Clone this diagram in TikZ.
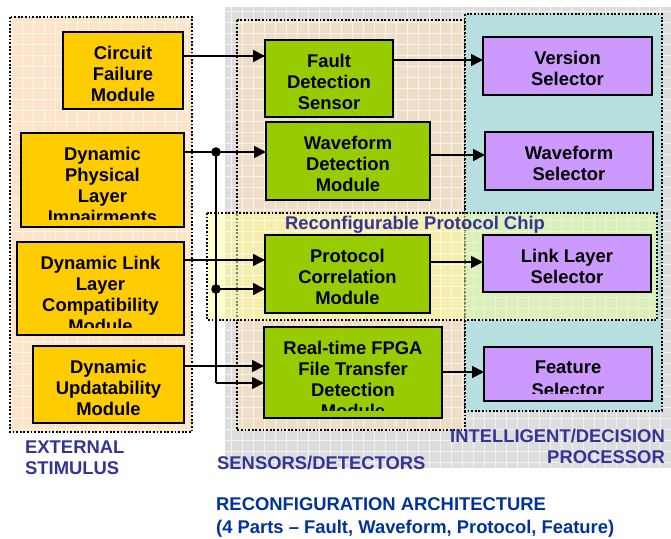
\documentclass[tikz,border=0pt]{standalone}
\usepackage{fontspec}
\setmainfont{Liberation Sans}
\usetikzlibrary{arrows.meta}

\definecolor{gold}{HTML}{FFCC00}
\definecolor{leaf}{HTML}{99CC00}
\definecolor{lilac}{HTML}{CC99FF}
\definecolor{teal}{RGB}{184,223,224}
\definecolor{panel}{RGB}{221,221,221}
\definecolor{peach}{RGB}{251,228,200}
\definecolor{sand}{RGB}{238,222,200}
\definecolor{chipyellow}{RGB}{255,255,150}
\definecolor{labelblue}{HTML}{333399}
\definecolor{titleblue}{HTML}{003399}

\tikzset{
  blockbox/.style={draw=black, line width=1.8pt, inner sep=0pt, outer sep=0pt},
  goldbox/.style={fill=gold},
  greenbox/.style={fill=leaf},
  purplebox/.style={fill=lilac},
  blocktext/.style={anchor=north, inner sep=0pt, align=center,
    font=\fontsize{18.4}{21}\selectfont\bfseries},
  conn/.style={draw=black, line width=1.7pt},
  arr/.style={conn, -{Triangle[length=12pt,width=12pt]}},
  region/.style={draw=black, line width=1.4pt, dash pattern=on 1.8pt off 1.8pt},
  gridline/.style={draw=white, line width=0.9pt, opacity=0.65},
  regionlabel/.style={inner sep=0pt, text=labelblue,
    font=\fontsize{18.4}{21}\selectfont\bfseries},
  dot/.style={fill=black}
}

% block: [text top offset], name, fill style, x1, y1, x2, y2, text
% (the text is cut off 8pt above the lower edge)
\newcommand\blk[8][13.5]{%
  \node[blockbox,#3,minimum width={(#6-#4)*1pt},minimum height={(#7-#5)*1pt}]
    (#2) at ({(#4+#6)/2},{(#5+#7)/2}) {};
  \begin{scope}
    \clip (#4,#5) rectangle (#6,{#7-8});
    \node[blocktext] (#2-t) at ({(#4+#6)/2},{#5+#1}) {#8};
  \end{scope}}

\begin{document}
\begin{tikzpicture}[x=1pt,y=-1pt]
\useasboundingbox (0,0) rectangle (671,538);

% grey panel behind sensors and processor
\fill[panel] (225,7) rectangle (671,468);
% sensors / detectors area
\fill[sand] (237,20) rectangle (465,430);
\begin{scope}
  \clip (225,7) rectangle (671,468);
  \draw[gridline] (220,0) grid[step=11pt] (680,470);
\end{scope}
\draw[region] (237,20) rectangle (465,430);

% intelligent / decision processor area
\fill[teal] (465,14) rectangle (662,411);
\draw[region] (465,14) rectangle (662,411);

% external stimulus area
\fill[peach] (10,17) rectangle (192,432);
\begin{scope}
  \clip (10,17) rectangle (192,432);
  \draw[gridline] (0,0) grid[step=11pt] (200,440);
\end{scope}
\draw[region] (10,17) rectangle (192,432);

% reconfigurable protocol chip
\fill[chipyellow, fill opacity=0.5] (207,213) rectangle (657,320);
\begin{scope}
  \clip (207,213) rectangle (657,320);
  \draw[draw=white, line width=0.8pt, opacity=0.45] (200,200) grid[step=11pt] (670,330);
\end{scope}
\draw[region] (207,213) rectangle (657,320);

% blocks
\blk{cfm}{goldbox}{63}{32}{183}{109}{Circuit\\Failure\\Module}
\blk{dpl}{goldbox}{21}{133}{184}{227}{Dynamic\\Physical\\Layer\\Impairments}
\blk{dll}{goldbox}{17}{242}{184}{335}{Dynamic Link\\Layer\\Compatibility\\Module}
\blk{dum}{goldbox}{33}{346}{184}{423}{Dynamic\\Updatability\\Module}
\blk{fds}{greenbox}{265}{40}{393}{117}{Fault\\Detection\\Sensor}
\blk{wdm}{greenbox}{266}{122}{430}{200}{Waveform\\Detection\\Module}
\blk{pcm}{greenbox}{265}{235}{430}{313}{Protocol\\Correlation\\Module}
\blk{fpga}{greenbox}{264}{327}{442}{418}{Real-time FPGA\\File Transfer\\Detection\\Module}
\blk{vs}{purplebox}{483}{37}{652}{95}{Version\\Selector}
\blk{wfs}{purplebox}{485}{132}{653}{190}{Waveform\\Selector}
\blk{lls}{purplebox}{483}{235}{651}{292}{Link Layer\\Selector}
\blk[14]{fs}{purplebox}{484}{347}{652}{401}{Feature\\[1.5pt]Selector}

% connector rows and junctions
\coordinate (r1) at (0,56);
\coordinate (r2) at (0,60);
\coordinate (r3) at (0,155);
\coordinate (r4) at (0,260);
\coordinate (r5) at (0,262);
\coordinate (r6) at (0,366);
\coordinate (r7) at (0,372);
\coordinate (j1) at (216,152);
\coordinate (j2) at (216,289);
\coordinate (j3) at (216,383);

% connectors
\draw[arr] (cfm.east |- r1) -- (fds.west |- r1);
\draw[arr] (fds.east |- r2) -- (vs.west |- r2);
\draw[conn] (dpl.east |- j1) -- (j1);
\draw[arr] (j1) -- (wdm.west |- j1);
\draw[conn] (j1) -- (j3);
\draw[arr] (j2) -- (pcm.west |- j2);
\draw[arr] (j3) -- (fpga.west |- j3);
\draw[arr] (wdm.east |- r3) -- (wfs.west |- r3);
\draw[arr] (dll.east |- r4) -- (pcm.west |- r4);
\draw[arr] (pcm.east |- r5) -- (lls.west |- r5);
\draw[arr] (dum.east |- r6) -- (fpga.west |- r6);
\draw[arr] (fpga.east |- r7) -- (fs.west |- r7);
\fill[dot] (j1) circle (4.8pt);
\fill[dot] (j2) circle (4.8pt);

% area labels
\node[regionlabel, anchor=north west, align=left] (extlabel) at (25,440.5) {EXTERNAL\\STIMULUS};
\node[regionlabel, anchor=north west] (senslabel) at (217,455.5) {SENSORS/DETECTORS};
\node[regionlabel, anchor=north east, align=right] (intlabel) at (665,428.5) {INTELLIGENT/DECISION\\PROCESSOR};
\node[regionlabel, anchor=base west] (chiplabel) at (285,229.5) {Reconfigurable Protocol Chip};

% caption
\node[inner sep=0pt, anchor=north west, align=left, text=titleblue,
  font=\fontsize{18.4}{23}\selectfont\bfseries] (caption) at (216,497.5)
  {RECONFIGURATION ARCHITECTURE\\(4 Parts -- Fault, Waveform, Protocol, Feature)};
\end{tikzpicture}
\end{document}
